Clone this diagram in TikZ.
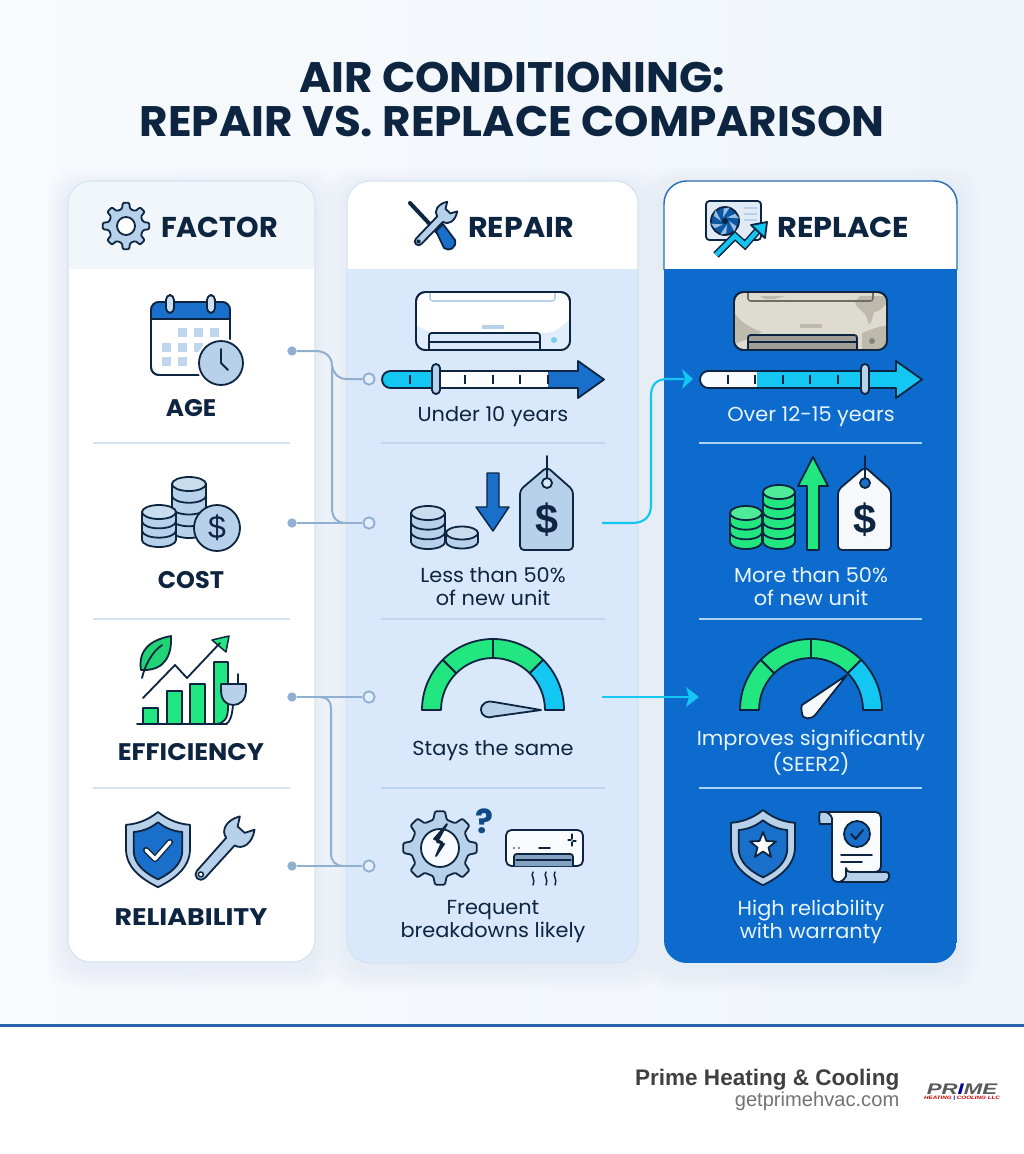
\documentclass[tikz,border=0pt]{standalone}
\usepackage{fontspec}
\setmainfont{Poppins}
\newfontfamily\libsans{Liberation Sans}
\newfontfamily\titlef{Poppins}[FakeStretch=1.025]
\newfontfamily\bodyf{Poppins}[FakeStretch=1.03]
\definecolor{ink}{HTML}{0D2540}
\definecolor{lblue}{HTML}{B8D1EA}
\definecolor{mblue}{HTML}{1A6FCB}
\definecolor{colblue}{HTML}{0C6BCC}
\definecolor{repbody}{HTML}{D9E8FB}
\definecolor{hdrpale}{HTML}{F1F6FB}
\definecolor{green1}{HTML}{22E67F}
\definecolor{cyan1}{HTML}{14C6F2}
\definecolor{conncol}{HTML}{8FB0D0}
\definecolor{divl}{HTML}{D5E3F0}
\definecolor{divm}{HTML}{BFD5EE}
\definecolor{divr}{HTML}{A9D3F7}
\definecolor{whitish}{HTML}{E8F4FF}
\definecolor{oldac}{HTML}{DEDBD0}
\definecolor{stain}{HTML}{BDB9AD}
\definecolor{footline}{HTML}{2A62B0}
\definecolor{repborder}{HTML}{2A70B5}
\definecolor{qcol}{HTML}{0F4C85}
\tikzset{
  ic/.style={draw=ink,line width=1.35pt,line join=round,line cap=round},
  conn/.style={draw=conncol,line width=1.5pt},
  cyanconn/.style={draw=cyan1,line width=1.6pt},
  cdot/.style={circle,fill=conncol,inner sep=0pt,minimum size=7pt},
  cring/.style={circle,draw=conncol,line width=1.4pt,fill=repbody!70!white,inner sep=0pt,minimum size=8.5pt},
  ttl/.style={font=\titlef\fontsize{32}{33}\selectfont\bfseries,text=ink,align=center},
  hdr/.style={font=\fontsize{21.5}{24}\selectfont\bfseries,text=ink},
  fac/.style={font=\fontsize{18}{21}\selectfont\bfseries,text=ink},
  bodyt/.style={font=\bodyf\fontsize{15.2}{17.25}\selectfont,text=ink,align=center},
  bodyw/.style={font=\bodyf\fontsize{15.2}{17.25}\selectfont,text=whitish,align=center},
}
% card: x1 x2 y1 ysplit y2 head body
\newcommand{\mycard}[7]{%
  \foreach \s in {21,18,15,12,9,6,3}{\fill[conncol,opacity=.016,rounded corners=20pt] (#1-\s,#3-\s+8) rectangle (#2+\s,#5+\s+6);}
  \begin{scope}
    \clip[rounded corners=17pt] (#1,#3) rectangle (#2,#5);
    \fill[#7] (#1,#4) rectangle (#2,#5);
    \fill[#6] (#1,#3) rectangle (#2,#4);
  \end{scope}}
% gear
\newcommand{\mygear}[6]{%
  \begin{scope}[shift={(#1,#2)}]
  \pgfmathsetmacro{\gs}{360/#5}
  \draw[ic,fill=#6,rounded corners=.9pt] ({-0.30*\gs}:#4)
   \foreach \k in {1,...,#5}{
     -- ({(\k-1)*\gs-0.30*\gs}:#4) -- ({(\k-1)*\gs-0.17*\gs}:#3) -- ({(\k-1)*\gs+0.17*\gs}:#3) -- ({(\k-1)*\gs+0.30*\gs}:#4)
   } -- cycle;
  \end{scope}}
% coin stack
\newcommand{\mystack}[8]{%
  \draw[ic,fill=#7] (#1-#4,#2) -- (#1-#4,#3) arc[start angle=180,end angle=0,x radius=#4,y radius=#5] -- (#1+#4,#2) -- cycle;
  \pgfmathsetmacro{\stepy}{(#3-#2)/#6}
  \pgfmathtruncatemacro{\nn}{#6-1}
  \ifnum\nn>0
  \foreach \k in {1,...,\nn}{\draw[ic] (#1-#4,#2+\k*\stepy) arc[start angle=180,end angle=0,x radius=#4,y radius=#5];}
  \fi
  \draw[ic,fill=#8] (#1,#2) ellipse[x radius=#4,y radius=#5];}
% wrench in unit frame, jaw towards +x
\newcommand{\mywrench}[1]{%
  \draw[ic,fill=#1] (-3.9,-.36) -- (-.95,-.38) .. controls (-.85,-.95) and (-.1,-1.2) .. (.72,-.66) -- (.12,-.32) -- (.12,.32) -- (.72,.66) .. controls (-.1,1.2) and (-.85,.95) .. (-.95,.38) -- (-3.9,.36) arc[start angle=90,end angle=270,radius=.36] -- cycle;}
% age bar: x0 s1 s2 shaft tip c1 c2 c3 tick-list
\newcommand{\myagebar}[9]{%
  \def\agepath{(#1+8.5,371) -- (#4,371) -- (#4,361) -- (#5,379.5) -- (#4,398) -- (#4,388) -- (#1+8.5,388) arc[start angle=90,end angle=270,radius=8.5] -- cycle}
  \begin{scope}
    \clip \agepath;
    \fill[#6] (#1-2,355) rectangle (#2,405);
    \fill[#7] (#2,355) rectangle (#3,405);
    \fill[#8] (#3,355) rectangle (#5+2,405);
  \end{scope}
  \draw[ic] \agepath;
  \foreach \t in {#9}{\draw[ink,line width=1.1pt] (\t,375) -- (\t,384);}
}
\newcommand{\myknob}[1]{\draw[ic,fill=lblue,rounded corners=3pt] (#1-4,364) rectangle (#1+4,394);}
% gauge
\newcommand{\mygauge}[1]{%
  \begin{scope}[shift={(#1,710)}]
  \foreach \a/\b/\c in {180/225/green1,225/270/green1,270/315/green1,315/360/cyan1}{
    \draw[ic,fill=\c] (\a:52) arc[start angle=\a,end angle=\b,radius=52] -- (\b:71) arc[start angle=\b,end angle=\a,radius=71] -- cycle;}
  \end{scope}}
% tag
\newcommand{\mytag}[3]{%
  \draw[ic,fill=#2,rounded corners=3pt] (#1-27,550) -- (#1-27,490) -- (#1,467) -- (#1+26,490) -- (#1+26,550) -- cycle;
  \draw[ic,fill=#3] (#1,483) circle (5);
  \draw[ic] (#1,456) -- (#1,478);}
\def\shieldpath{(0,0) .. controls (.35,.28) and (.7,.38) .. (1,.4) -- (1,1.15) .. controls (1,1.75) and (.5,2.1) .. (0,2.35) .. controls (-.5,2.1) and (-1,1.75) .. (-1,1.15) -- (-1,.4) .. controls (-.7,.38) and (-.35,.28) .. (0,0) -- cycle}
\begin{document}
\begin{tikzpicture}[x=0.75pt,y=-0.75pt]
\useasboundingbox (0,0) rectangle (1024,1154);
\shade[left color=white!50!hdrpale,right color=hdrpale!97!lblue] (0,0) rectangle (1024,1026);
\fill[white] (0,1026) rectangle (1024,1154);
\fill[footline] (0,1024) rectangle (1024,1027);

\node[ttl] (title) at (512,99) {AIR CONDITIONING:\\REPAIR VS. REPLACE COMPARISON};

\mycard{68}{315}{181}{269}{962}{hdrpale}{white}
\mycard{347}{638}{181}{269}{963}{white}{repbody}
\mycard{664}{957}{181}{269}{963}{white}{colblue}
\draw[draw=divl,line width=.8pt,rounded corners=17pt] (68,181) rectangle (315,962);
\draw[draw=divl,line width=.8pt,rounded corners=17pt] (347,181) rectangle (638,963);
\begin{scope}
  \clip (655,170) rectangle (966,269);
  \draw[draw=repborder,line width=1.1pt,rounded corners=17pt] (664,181) rectangle (957,963);
\end{scope}

% dividers
\foreach \y in {443,619,788}{
  \draw[divl,line width=1.1pt] (93,\y) -- (290,\y);
  \draw[divm,line width=1.1pt] (381,\y) -- (605,\y);
  \draw[divr,line width=1.1pt] (699,\y) -- (922,\y);
}

% headers
\node[hdr] (hfactor) at (219.5,227) {FACTOR};
\node[hdr] (hrepair) at (521,227) {\scalebox{1.05}[1]{REPAIR}};
\node[hdr] (hreplace) at (843.5,227) {\scalebox{1.06}[1]{REPLACE}};

% factor gear
\mygear{126}{226}{23.5}{17.5}{8}{lblue}
\draw[ic,fill=white] (126,226) circle (9);

% screwdriver + wrench
\draw[ink,line width=3pt,line cap=round] (410,203) -- (440,235);
\draw[ic,fill=mblue] (436,231) -- (443,224) -- (455,240) .. controls (457,248) and (449,252) .. (444,248) -- cycle;
\begin{scope}[shift={(447,212)},rotate=46,scale=10.5]
 \mywrench{lblue}
 \draw[ic,fill=white] (-3.9,0) circle (.14);
\end{scope}

% replace icon
\draw[ic,fill=hdrpale!70!lblue,rounded corners=2.5pt] (706,201) rectangle (761,240);
\draw[lblue,line width=1.1pt] (744,208) -- (757,208) (744,214) -- (757,214) (744,220) -- (757,220);
\draw[ic,fill=colblue!70!ink] (725,221) circle (14);
\foreach \a in {0,60,...,300}{\fill[lblue!80!mblue] (725,221) ++(\a:4) -- ++(\a+35:9) -- ++(\a+110:6) -- cycle;}
\fill[ink] (725,221) circle (3);
\draw[ink,line width=5.6pt,line join=miter] (716,255) -- (735,236) -- (745,245) -- (759,229);
\draw[cyan1,line width=3.4pt,line join=miter] (716,255) -- (735,236) -- (745,245) -- (759,229);
\draw[ic,fill=cyan1] (751,225) -- (767,222) -- (765,238) -- cycle;

% ---- ROW 1 ----
% calendar
\draw[ic,fill=white,rounded corners=6pt] (151,302) rectangle (230,375);
\begin{scope}
  \clip[rounded corners=6pt] (151,302) rectangle (230,375);
  \fill[mblue] (151,302) rectangle (230,319);
  \draw[ic] (151,319) -- (230,319);
\end{scope}
\draw[ic,rounded corners=6pt] (151,302) rectangle (230,375);
\foreach \x in {170,211}{\draw[ic,fill=lblue!70!white,rounded corners=3.5pt] (\x-4,295) rectangle (\x+4,313);}
\foreach \x/\y in {182/332,198/332,214/332,166/347,182/347,198/347,166/361,182/361}{\fill[lblue!90!white] (\x-4.5,\y-4.5) rectangle (\x+4.5,\y+4.5);}
\fill[white] (221,363) circle (25);
\draw[ic,fill=lblue] (221,363) circle (22);
\draw[ic] (221,349) -- (221,363) -- (228,370);
\node[fac] (age) at (191,408) {\scalebox{1.03}[1]{AGE}};

% AC repair
\draw[ic,fill=white,rounded corners=7pt] (416,292) rectangle (570,350);
\begin{scope}
  \clip[rounded corners=7pt] (416,292) rectangle (570,350);
  \fill[repbody!80!white] (416,350) -- (416,325) .. controls (425,330) and (430,333) .. (435,333) -- (545,333) .. controls (555,333) and (565,325) .. (570,318) -- (570,350) -- cycle;
\end{scope}
\draw[lblue,line width=1.2pt,rounded corners=2pt] (430,293) -- (430,301) -- (555,301) -- (555,293);
\fill[lblue] (482,325) rectangle (504,328.5);
\draw[ic,fill=repbody,rounded corners=2pt] (429,350) -- (429,333) -- (540,333) -- (540,350);
\draw[ic] (429,342) -- (540,342);
\fill[lblue!60!cyan1] (554,340) circle (3);
\draw[ic,rounded corners=7pt] (416,292) rectangle (570,350);
\myagebar{382}{433}{548}{578}{604}{cyan1}{white!90!repbody}{mblue}{410,465,493,520,548}
\myknob{436}
\node[bodyt] (under) at (493,416.5) {Under 10 years};

% AC replace
\draw[ic,fill=oldac,rounded corners=7pt] (734,292) rectangle (887,350);
\begin{scope}
  \clip[rounded corners=7pt] (734,292) rectangle (887,350);
  \fill[stain] (855,302) .. controls (858,312) and (866,310) .. (868,322) .. controls (870,328) and (872,320) .. (874,312) .. controls (880,312) and (884,306) .. (887,303) -- (887,296) -- (860,296) -- cycle;
  \fill[stain] (734,312) .. controls (740,322) and (750,328) .. (762,332) -- (745,340) -- (734,344) -- cycle;
  \fill[stain] (887,326) .. controls (878,326) and (870,330) .. (862,333) -- (862,350) -- (887,350) -- cycle;
  \fill[stain] (760,296) -- (785,296) -- (775,299) -- (765,299) -- cycle;
\end{scope}
\draw[black!50!oldac,line width=1.2pt,rounded corners=2pt] (748,293) -- (748,301) -- (873,301) -- (873,293);
\fill[stain] (800,324) rectangle (822,328);
\draw[ic,fill=black!28!oldac,rounded corners=2pt] (748,350) -- (748,335) -- (857,335) -- (857,350);
\draw[ic] (748,342) -- (857,342);
\fill[black!40!oldac] (872,341) circle (3);
\draw[ic,rounded corners=7pt] (734,292) rectangle (887,350);
\myagebar{700}{757}{757}{896}{922}{white!92!lblue}{cyan1}{cyan1}{728,755,783,810,838}
\myknob{865}
\node[bodyw] (over) at (811,416.5) {Over 12-15 years};

% ---- ROW 2 ----
\mystack{189}{484}{531}{17}{7}{4}{lblue}{lblue!75!white}
\mystack{159}{512}{540}{17}{7}{3}{lblue}{lblue!75!white}
\draw[ic,fill=lblue] (217,528) circle (23);
\node[font=\libsans\fontsize{24}{24}\selectfont,text=ink] (dollar1) at (217,528) {\$};
\node[fac] (cost) at (191,580) {COST};

\mystack{428}{513}{542}{17}{7}{3}{lblue}{lblue!75!white}
\mystack{462}{533}{542}{16}{6.5}{1}{lblue}{lblue!75!white}
\draw[ic,fill=mblue,line width=1.1pt] (487,473) -- (499,473) -- (499,507) -- (509,507) -- (493,531) -- (476,507) -- (487,507) -- cycle;
\mytag{547}{lblue}{repbody}
\node[font=\libsans\fontsize{31}{31}\selectfont\bfseries,text=ink] (dollar2) at (547,520) {\$};
\node[bodyt] (lessthan) at (493,586.5) {Less than 50\%\\of new unit};

\mystack{746}{513}{542}{16}{7}{3}{green1}{green1!80!white}
\mystack{779}{492}{542}{16}{7}{5}{green1}{green1!80!white}
\draw[ic,fill=green1] (807,550) -- (807,486) -- (798,486) -- (813,457) -- (828,486) -- (819,486) -- (819,550) -- cycle;
\mytag{865}{white!88!lblue}{mblue}
\node[font=\libsans\fontsize{31}{31}\selectfont\bfseries,text=ink] (dollar3) at (865,520) {\$};
\node[bodyw] (morethan) at (811,586.5) {More than 50\%\\of new unit};

% ---- ROW 3 ----
\foreach \x/\t in {143/708,167/691,190/684}{\draw[ic,fill=green1] (\x,724) -- (\x,\t) -- (\x+15,\t) -- (\x+15,724);}
\draw[ic,fill=green1] (214,724) -- (214,662) -- (228,662) -- (228,708) .. controls (228,718) and (224,724) .. (216,724);
\draw[ic] (137,724) -- (227,724);
\draw[ic,fill=green1,line width=1.1pt] (212,640) -- (229,636) -- (226,652) -- cycle;
\draw[ic] (143,698) -- (175,665) -- (187,678) -- (220,643);
\draw[ic,fill=green1!92!black] (141,670) .. controls (138,650) and (150,640) .. (171,636) .. controls (172,655) and (165,670) .. (144,670) -- cycle;
\draw[ic] (142,678) .. controls (145,665) and (152,652) .. (162,645);
\draw[ic] (228,674) -- (228,684) (238,674) -- (238,684);
\draw[ic,fill=lblue] (221,684) -- (246,684) -- (246,690) .. controls (246,700) and (240,705) .. (233,705) .. controls (226,705) and (221,700) .. (221,690) -- cycle;
\draw[ic] (233,705) .. controls (232,716) and (230,722) .. (226,724);
\node[fac] (eff) at (191,752) {\scalebox{1.067}[1]{EFFICIENCY}};

\mygauge{493}
\draw[ic,fill=lblue] (481,710) .. controls (481,703) and (488,700) .. (494,702) -- (541,710) -- (494,716.5) .. controls (488,719) and (481,716) .. (481,710) -- cycle;
\node[bodyt] (stays) at (493,750.5) {Stays the same};

\mygauge{811}
\draw[ic,fill=white!88!lblue] (802,705) -- (847,675) -- (816,714) .. controls (812,720) and (802,720) .. (802,713) .. controls (801,710) and (801,707) .. (802,705) -- cycle;
\node[bodyw] (improves) at (811,752.5) {Improves significantly\\(SEER2)};

% ---- ROW 4 ----
\begin{scope}[shift={(158,812)},scale=32]
 \draw[ic,fill=lblue] \shieldpath;
 \begin{scope}[shift={(0,.32)},scale=.76]
  \draw[ic,fill=mblue] \shieldpath;
 \end{scope}
\end{scope}
\draw[ink,line width=4.6pt,line cap=round,line join=round] (146,850) -- (155,859) -- (170,842);
\draw[white,line width=2.6pt,line cap=round,line join=round] (146,850) -- (155,859) -- (170,842);
\begin{scope}[shift={(240,831)},rotate=48,scale=15]
 \mywrench{lblue}
 \draw[ic,fill=white,line width=1.1pt] (-3.9,0) circle (.17);
\end{scope}
\node[fac] (rel) at (191,917) {\scalebox{1.118}[1]{RELIABILITY}};

\mygear{440}{848}{37}{29}{8}{lblue}
\draw[ic,fill=white!80!repbody] (440,848) circle (19);
\draw[ic,fill=ink] (447,824) -- (437,842) -- (444,844) -- (436,856) -- (442,842) -- (434,839) -- cycle;
\node[font=\fontsize{25}{25}\selectfont\bfseries,text=qcol] (qmark) at (484,821) {?};
\draw[ic,fill=white!85!repbody,rounded corners=4pt] (506,830) rectangle (583,866);
\draw[ic,fill=conncol!90!ink,rounded corners=2pt] (514,866) -- (514,854) -- (573,854) -- (573,866);
\draw[ic,line width=.8pt] (516,860) -- (571,860);
\fill[ink] (514,848) circle (.9) (519,848) circle (.9);
\draw[ic] (539,848) -- (550,848);
\draw[ic,line width=.9pt] (572,834) -- (572,839) (572,842) -- (572,846) (568,840) -- (571,840) (573,841) -- (576,841);
\foreach \x in {533,546,555}{\draw[ic,line width=1.1pt] (\x,872) .. controls (\x-3,876) and (\x+3,879) .. (\x,885);}
\node[bodyt] (freq) at (493,921.5) {Frequent\\breakdowns likely};

\begin{scope}[shift={(763,810)},scale=32]
 \draw[ic,fill=lblue] \shieldpath;
 \begin{scope}[shift={(0,.32)},scale=.76]
  \draw[ic,fill=mblue] \shieldpath;
 \end{scope}
\end{scope}
\draw[ic,fill=white] (763,832) -- (766.5,841) -- (776,841.5) -- (768.5,847.5) -- (771,857) -- (763,851.5) -- (755,857) -- (757.5,847.5) -- (750,841.5) -- (759.5,841) -- cycle;
% scroll
\draw[ic,fill=lblue,rounded corners=3pt] (832,812) -- (824,812) .. controls (819,812) and (819,824) .. (824,824) -- (835,824) -- cycle;
\draw[ic,fill=white!92!lblue,rounded corners=4pt] (829,812) -- (881,812) -- (881,872) -- (848,872) -- (848,882) -- (832,882) -- (832,824) .. controls (832,818) and (831,814) .. (826,812);
\draw[ic,fill=lblue,rounded corners=3pt] (846,872) -- (890,872) -- (888,882) -- (838,882) .. controls (844,880) and (846,876) .. (846,872) -- cycle;
\draw[ic,fill=mblue] (857,834) circle (13);
\draw[ink,line width=1.5pt,line cap=round,line join=round] (851,834) -- (855.5,839) -- (863,830);
\draw[ic] (841,855) -- (872,855) (841,862) -- (862,862);
\node[bodyw] (high) at (811,921.5) {High reliability\\with warranty};

% ---- CONNECTORS ----
\node[cdot] (d1) at (292,351) {};
\node[cdot] (d2) at (292,523) {};
\node[cdot] (d3) at (292,697) {};
\node[cdot] (d4) at (292,866) {};
\coordinate (j1) at (332,366);
\coordinate (j3) at (331,708);
\coordinate (r1j) at (347,379);
\coordinate (j2) at (347,523);
\coordinate (j3s) at (320,697);
\coordinate (j4) at (344,866);
\draw[conn] (d1) -- (315,351) .. controls (326,351) and (332,357) .. (j1) -- (332,508) .. controls (332,518) and (337,523) .. (j2);
\draw[conn] (j3s) .. controls (327,697) and (331,701) .. (j3) -- (331,853) .. controls (331,861) and (335,866) .. (j4);
\node[cring] (r1) at (369,379) {};
\node[cring] (r2) at (369,523) {};
\node[cring] (r3) at (369,697) {};
\node[cring] (r4) at (369,866) {};
\draw[conn] (j1) .. controls (334,374) and (338,379) .. (r1j) -- (r1);
\draw[conn] (d2) -- (r2);
\draw[conn] (d3) -- (r3);
\draw[conn] (d4) -- (r4);
\coordinate (c1s) at (602,523);
\coordinate (c1e) at (693,379);
\coordinate (c2s) at (602,697);
\coordinate (c2e) at (699,697);
\draw[cyanconn] (c1s) -- (632,523) .. controls (645,523) and (651,516) .. (651,505) -- (651,396) .. controls (651,385) and (656,379) .. (668,379) -- (684,379);
\fill[cyan1] (c1e) -- (682,369) -- (685,379) -- (682,389) -- cycle;
\draw[cyanconn] (c2s) -- (690,697);
\fill[cyan1] (c2e) -- (686,687) -- (689,697) -- (686,707) -- cycle;

% ---- FOOTER ----
\node[anchor=east,font=\libsans\fontsize{16.9}{20}\selectfont\bfseries,text=black!75] (brand) at (904,1080) {Prime Heating \& Cooling};
\node[anchor=east,font=\libsans\fontsize{15.1}{18}\selectfont,text=black!55] (url) at (904,1101) {getprimehvac.com};
\node[font=\libsans\fontsize{11.5}{12}\selectfont\bfseries\itshape,text=black!65,inner sep=0pt] (logo) at (962,1089) {\scalebox{1.45}[1]{PR\textcolor{blue!60!black}{I}ME}};
\node[font=\libsans\fontsize{3.6}{4}\selectfont\bfseries\itshape,text=red!80!black,inner sep=0pt] (logosub) at (962,1098) {\scalebox{1.3}[1]{HEATING \textcolor{blue!60!black}{|} COOLING LLC}};
\end{tikzpicture}
\end{document}
